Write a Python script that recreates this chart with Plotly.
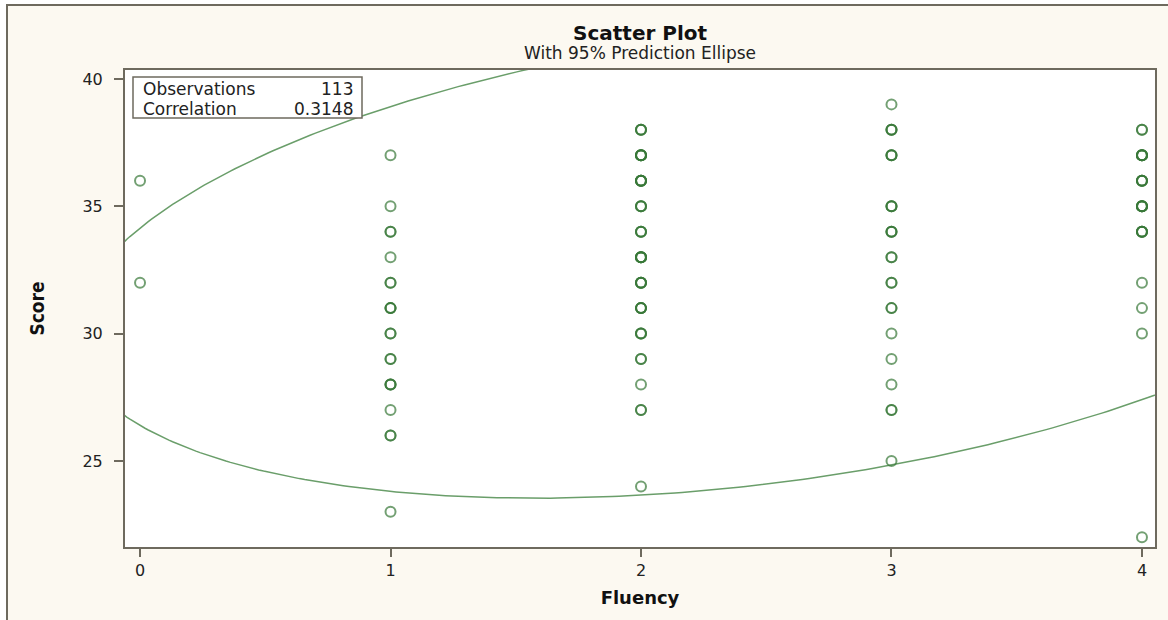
import numpy as np
import plotly.graph_objects as go

# ---- data ----
fluency_levels = [0, 1, 2, 3, 4]
score_f0 = [36, 32]
score_f1 = [37, 35, 34, 34, 33, 32, 32, 31, 31, 31, 30, 30, 29, 29, 28, 28, 28, 27, 26, 26, 23]
score_f2 = [38, 38, 38, 37, 37, 37, 37, 37, 36, 36, 36, 36, 36, 35, 35, 35, 34, 34, 34,
            33, 33, 33, 33, 33, 32, 32, 32, 32, 31, 31, 31, 31, 30, 30, 30, 29, 29, 28, 27, 27, 24]
score_f3 = [39, 38, 38, 38, 37, 37, 37, 35, 35, 35, 34, 34, 34, 33, 33, 32, 32,
            31, 31, 30, 29, 28, 27, 27, 25]
score_f4 = [38, 38, 37, 37, 37, 37, 37, 36, 36, 36, 36, 35, 35, 35, 35, 35, 34, 34, 34, 34,
            32, 31, 30, 22]
x_ticks = [0, 1, 2, 3, 4]
y_ticks = [25, 30, 35, 40]
stats_labels = ["Observations", "Correlation"]
stats_values = ["113", "0.3148"]

groups = [score_f0, score_f1, score_f2, score_f3, score_f4]
fluency = np.concatenate([[lvl] * len(g) for lvl, g in zip(fluency_levels, groups)]).astype(float)
score = np.concatenate(groups).astype(float)

# ---- 95% prediction ellipse from the data ----
n = len(score)
m = n - 2
F = (m / 2.0) * (0.05 ** (-2.0 / m) - 1.0)
c2 = 2.0 * (n - 1) * (n + 1) / (n * (n - 2)) * F
S = np.cov(fluency, score)
L = np.linalg.cholesky(S)
t = np.linspace(0, 2 * np.pi, 600)
circ = np.vstack([np.cos(t), np.sin(t)])
ell = np.array([[fluency.mean()], [score.mean()]]) + np.sqrt(c2) * (L @ circ)

CREAM = "#FCF9F1"
FRAME = "#6E6A5E"
GREEN_LINE = "#6A9E6A"
MARKER = "rgba(55,120,55,0.7)"

fig = go.Figure()
fig.add_trace(go.Scatter(x=ell[0], y=ell[1], mode="lines",
                         line=dict(color=GREEN_LINE, width=1.5),
                         hoverinfo="skip", showlegend=False))
fig.add_trace(go.Scatter(x=fluency, y=score, mode="markers",
                         marker=dict(symbol="circle-open", size=10, color=MARKER,
                                     line=dict(width=2, color=MARKER)),
                         showlegend=False))

PL, PR, PT, PB = 125, 1155, 70, 547
W, H = PR - PL, PB - PT
def px(xp):
    return (xp - PL) / W
def py(yp):
    return 1 - (yp - PT) / H

shapes = [
    dict(type="rect", xref="paper", yref="paper", x0=px(7), x1=px(1180), y0=py(5), y1=py(640),
         fillcolor=CREAM, line=dict(color=FRAME, width=2), layer="below"),
    dict(type="rect", xref="paper", yref="paper", x0=0, x1=1, y0=0, y1=1,
         fillcolor="white", line=dict(width=0), layer="below"),
    dict(type="rect", xref="paper", yref="paper", x0=px(133), x1=px(362), y0=py(77), y1=py(118),
         fillcolor="white", line=dict(color=FRAME, width=1.5), layer="above"),
]
annotations = [
    dict(text="<b>Scatter Plot</b>", xref="paper", yref="paper", x=0.5, y=py(33),
         xanchor="center", yanchor="middle", showarrow=False,
         font=dict(family="DejaVu Sans", size=20, color="#111")),
    dict(text="With 95% Prediction Ellipse", xref="paper", yref="paper", x=0.5, y=py(53),
         xanchor="center", yanchor="middle", showarrow=False,
         font=dict(family="DejaVu Sans", size=17, color="#222")),
]
for i, (lab, val) in enumerate(zip(stats_labels, stats_values)):
    yc = py(89 + i * 20)
    annotations.append(dict(text=lab, xref="paper", yref="paper", x=px(141), y=yc,
                            xanchor="left", yanchor="middle", showarrow=False,
                            font=dict(family="DejaVu Sans", size=17, color="#222")))
    annotations.append(dict(text=val, xref="paper", yref="paper", x=px(355), y=yc,
                            xanchor="right", yanchor="middle", showarrow=False,
                            font=dict(family="DejaVu Sans", size=17, color="#222")))

fig.update_layout(
    width=1168, height=620,
    margin=dict(l=PL, r=1168 - PR, t=PT, b=620 - PB),
    paper_bgcolor="white", plot_bgcolor="white",
    shapes=shapes, annotations=annotations,
    xaxis=dict(range=[-0.06, 4.052], tickvals=x_ticks, ticks="outside", ticklen=8,
               tickcolor=FRAME, tickwidth=1.5, showgrid=False, zeroline=False,
               showline=True, mirror=True, linecolor=FRAME, linewidth=2,
               tickfont=dict(family="DejaVu Sans", size=16, color="#222"),
               title=dict(text="<b>Fluency</b>", standoff=12,
                          font=dict(family="DejaVu Sans", size=18, color="#111"))),
    yaxis=dict(range=[21.62, 40.35], tickvals=y_ticks, ticks="outside", ticklen=9,
               tickcolor=FRAME, tickwidth=1.5, showgrid=False, zeroline=False,
               showline=True, mirror=True, linecolor=FRAME, linewidth=2,
               tickfont=dict(family="DejaVu Sans", size=16, color="#222"),
               ticklabelstandoff=8,
               title=dict(text="<b>Score</b>", standoff=33,
                          font=dict(family="Liberation Sans Narrow, DejaVu Sans Condensed, Arial Narrow, sans-serif",
                                    size=19, color="#111"))),
)

fig.write_html("out.html", config={"displayModeBar": False},
               post_script="document.body.style.margin='0';")
